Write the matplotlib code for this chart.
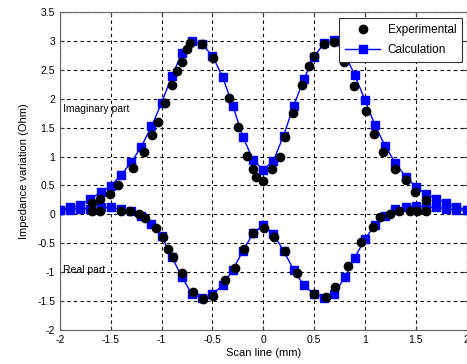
import numpy as np
import matplotlib
matplotlib.use('Agg')
import matplotlib.pyplot as plt

plt.rcParams['font.family'] = ['Liberation Sans', 'DejaVu Sans']
plt.rcParams['axes.unicode_minus'] = False

# calculation, every 0.1 mm
x_calc = np.round(np.arange(-2.0, 2.01, 0.1), 2)
imag_calc = [0.08, 0.12, 0.16, 0.27, 0.38, 0.49, 0.68, 0.90, 1.17, 1.52, 1.93,
             2.39, 2.79, 2.99, 2.94, 2.74, 2.38, 1.88, 1.34, 0.94, 0.77,
             0.93, 1.36, 1.88, 2.34, 2.73, 2.96, 3.02, 2.78, 2.41, 1.98,
             1.54, 1.18, 0.89, 0.65, 0.48, 0.35, 0.27, 0.19, 0.13, 0.08]
real_calc = [0.07, 0.08, 0.10, 0.10, 0.12, 0.12, 0.09, 0.06, -0.02, -0.17, -0.38,
             -0.73, -1.09, -1.38, -1.45, -1.38, -1.23, -0.96, -0.63, -0.33, -0.18,
             -0.34, -0.63, -0.96, -1.23, -1.38, -1.44, -1.38, -1.09, -0.75, -0.43,
             -0.18, -0.02, 0.09, 0.13, 0.15, 0.12, 0.12, 0.10, 0.08, 0.07]

# experimental
x_imag_exp = [-1.69, -1.61, -1.51, -1.43, -1.28, -1.17, -1.09, -1.04, -0.97, -0.90,
              -0.85, -0.80, -0.75, -0.72, -0.60, -0.49, -0.34, -0.25, -0.16, -0.10,
              -0.07, 0.00, 0.09, 0.16, 0.21, 0.29, 0.38, 0.45, 0.50, 0.60,
              0.70, 0.79, 0.89, 1.01, 1.09, 1.18, 1.30, 1.40, 1.49, 1.60]
imag_exp = [0.19, 0.26, 0.35, 0.51, 0.81, 1.08, 1.37, 1.59, 1.93, 2.24,
            2.48, 2.64, 2.86, 2.96, 2.94, 2.70, 2.02, 1.51, 1.01, 0.78,
            0.65, 0.58, 0.78, 1.00, 1.34, 1.76, 2.24, 2.57, 2.74, 2.95,
            2.98, 2.64, 2.22, 1.78, 1.39, 1.07, 0.78, 0.59, 0.39, 0.25]
x_real_exp = [-1.69, -1.61, -1.40, -1.31, -1.22, -1.16, -1.06, -0.99, -0.94, -0.89,
              -0.80, -0.69, -0.59, -0.49, -0.38, -0.28, -0.19, -0.10, 0.01, 0.11,
              0.21, 0.33, 0.50, 0.62, 0.71, 0.83, 0.96, 1.08, 1.15, 1.25,
              1.34, 1.44, 1.51, 1.60]
real_exp = [0.06, 0.06, 0.06, 0.06, 0.01, -0.06, -0.24, -0.40, -0.60, -0.74,
            -1.02, -1.35, -1.47, -1.42, -1.13, -0.93, -0.60, -0.32, -0.23, -0.40,
            -0.64, -1.01, -1.38, -1.43, -1.26, -0.90, -0.47, -0.22, -0.05, 0.01,
            0.05, 0.06, 0.05, 0.05]

fig = plt.figure(figsize=(4.67, 3.64), dpi=100)
ax = fig.add_axes([60/467, 1-330/364, 406.5/467, 318/364])

ax.plot(x_calc, imag_calc, 'bs-', ms=6, lw=1, zorder=3, label='Calculation')
ax.plot(x_calc, real_calc, 'bs-', ms=6, lw=1, zorder=3)
ax.plot(x_imag_exp, imag_exp, 'ko', ms=6, zorder=4, label='Experimental')
ax.plot(x_real_exp, real_exp, 'ko', ms=6, zorder=4)

ax.set_xlim(-2, 2)
ax.set_ylim(-2, 3.5)
ax.set_xticks(np.arange(-2, 2.01, 0.5))
ax.set_yticks(np.arange(-2, 3.51, 0.5))
ax.set_xticklabels(['%g' % v for v in np.arange(-2, 2.01, 0.5)])
ax.set_yticklabels(['%g' % v for v in np.arange(-2, 3.51, 0.5)])
ax.tick_params(direction='in', length=3, labelsize=7.5, colors='0.25',
               labelcolor='black', top=True, right=True)
for s in ax.spines.values():
    s.set_color('0.4')
ax.grid(True, color='black', linestyle=(0, (3, 3)), linewidth=0.8)
ax.set_axisbelow(True)

ax.set_xlabel('Scan line (mm)', fontsize=8, labelpad=2)
ax.set_ylabel('Impedance variation (Ohm)', fontsize=8, labelpad=6)

ax.text(-1.97, 1.82, 'Imaginary part', fontsize=7.5, ha='left', va='center')
ax.text(-1.97, -0.96, 'Real part', fontsize=7.5, ha='left', va='center')

h, l = ax.get_legend_handles_labels()
leg = ax.legend([h[1], h[0]], [l[1], l[0]], loc='upper right', fontsize=8.5,
                fancybox=False, edgecolor='0.2', framealpha=1, handlelength=3,
                labelspacing=0.7, borderpad=0.5, handletextpad=0.6,
                borderaxespad=0, bbox_to_anchor=(0.989, 0.981))
leg.get_frame().set_linewidth(0.8)
leg.set_zorder(10)

fig.savefig('out.png', dpi=100)
